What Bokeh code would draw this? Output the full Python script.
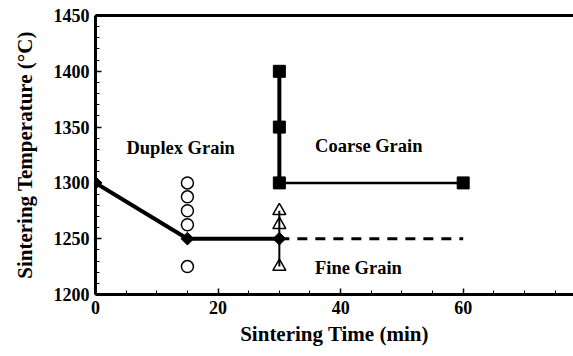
import math
from bokeh.plotting import figure
from bokeh.models import Range1d, LinearAxis, SingleIntervalTicker, FixedTicker, Label
from bokeh.embed import file_html
from bokeh.resources import INLINE

# Data
boundary_x = [0, 15, 30]
boundary_y = [1300, 1250, 1250]
coarse_vert_x = [30, 30, 30]
coarse_vert_y = [1300, 1350, 1400]
coarse_horiz_x = [30, 60]
coarse_horiz_y = [1300, 1300]
fine_dash_x = [30, 60]
fine_dash_y = [1250, 1250]
duplex_x = [15, 15, 15, 15, 15]
duplex_y = [1225, 1262.5, 1275, 1287.5, 1300]
fine_x = [30, 30, 30]
fine_y = [1225, 1262.5, 1275]
region_labels = ["Duplex Grain", "Coarse Grain", "Fine Grain"]
region_x = [13.9, 44.6, 42.9]
region_y = [1331, 1333.5, 1224]

FONT = "Liberation Serif"

p = figure(width=573, height=356, output_backend="svg", toolbar_location=None,
           x_range=Range1d(0, 78), y_range=Range1d(1200, 1450),
           min_border_left=95, min_border_right=0, min_border_top=15, min_border_bottom=62)
p.outline_line_color = None
p.xgrid.visible = False
p.ygrid.visible = False
p.background_fill_color = "white"

# thin vertical line through triangles
p.line(fine_x, fine_y, line_color="black", line_width=2)
# boundary lines
p.line(boundary_x, boundary_y, line_color="black", line_width=4)
p.line(coarse_vert_x, coarse_vert_y, line_color="black", line_width=4)
p.line(coarse_horiz_x, coarse_horiz_y, line_color="black", line_width=2.5)
p.line(fine_dash_x, fine_dash_y, line_color="black", line_width=3, line_dash="10 8")

p.scatter(duplex_x, duplex_y, marker="circle", size=12, fill_color="white",
          line_color="black", line_width=1.5)
p.scatter(fine_x, fine_y, marker="triangle", size=13, fill_color=None,
          line_color="black", line_width=1.5)
p.scatter(coarse_vert_x + coarse_horiz_x[1:], coarse_vert_y + coarse_horiz_y[1:],
          marker="square", size=12, fill_color="black", line_color="black")
p.scatter(boundary_x, boundary_y, marker="square", angle=math.pi / 4, size=9,
          fill_color="black", line_color="black")

for t, x, y in zip(region_labels, region_x, region_y):
    p.add_layout(Label(x=x, y=y, text=t, text_font=FONT, text_font_style="bold",
                       text_font_size="18.5px", text_align="center", text_baseline="middle",
                       text_color="black"))

xa = p.xaxis[0]
xa.ticker = SingleIntervalTicker(interval=20, num_minor_ticks=4)
ya = p.yaxis[0]
ya.ticker = SingleIntervalTicker(interval=50, num_minor_ticks=5)
for ax in (xa, ya):
    ax.axis_line_width = 3
    ax.axis_line_color = "black"
    ax.major_tick_in = 6
    ax.major_tick_out = 0
    ax.minor_tick_in = 4
    ax.minor_tick_out = 0
    ax.major_tick_line_width = 1.5
    ax.minor_tick_line_width = 1
    ax.major_label_text_font = FONT
    ax.major_label_text_font_style = "bold"
    ax.major_label_text_font_size = "18px"
    ax.major_label_text_color = "black"
    ax.axis_label_text_font = FONT
    ax.axis_label_text_font_style = "bold"
    ax.axis_label_text_font_size = "21px"
    ax.axis_label_text_color = "black"
xa.axis_label = "Sintering Time (min)"
ya.axis_label = "Sintering Temperature (°C)"
xa.major_label_standoff = 6
ya.major_label_standoff = 6
xa.axis_label_standoff = 5
ya.axis_label_standoff = 14

top = LinearAxis(ticker=FixedTicker(ticks=[]), axis_line_width=3, axis_line_color="black",
                 major_tick_line_color=None, minor_tick_line_color=None)
p.add_layout(top, "above")

open("out.html", "w").write(file_html(p, INLINE))
